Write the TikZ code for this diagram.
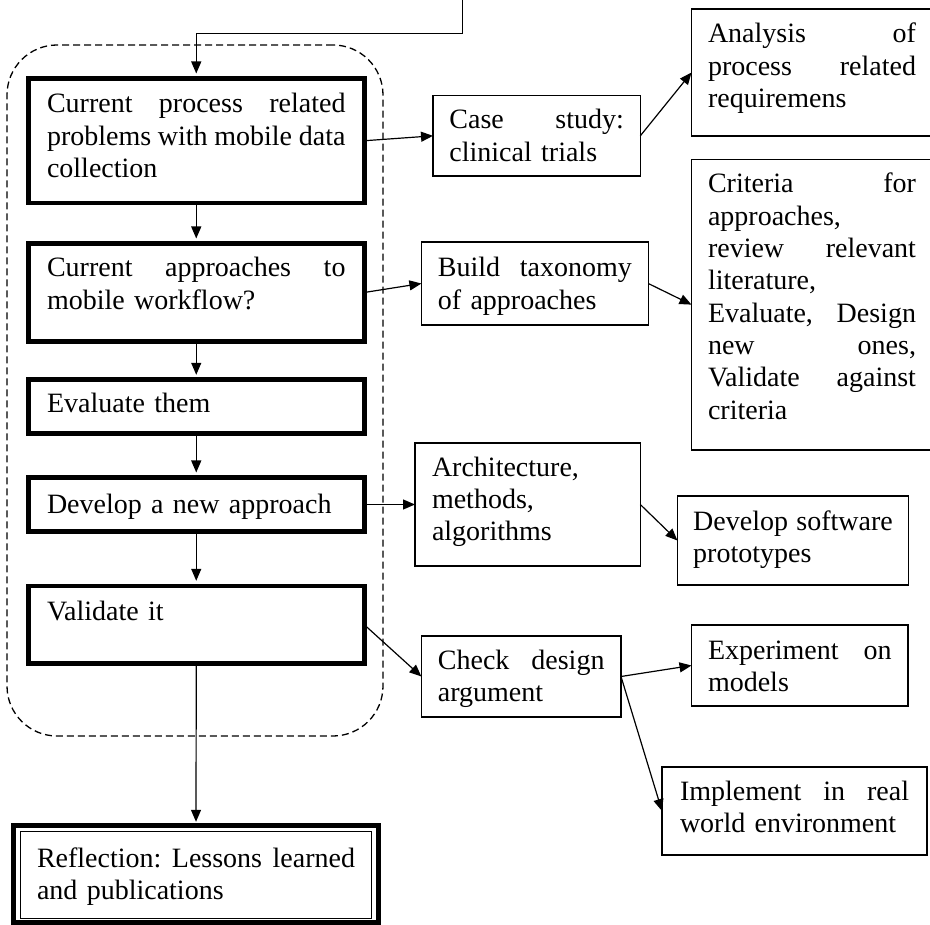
\documentclass[tikz,border=0pt]{standalone}
\usepackage{fontspec}
\setmainfont{Liberation Serif}
\usetikzlibrary{arrows.meta}
% a line stretched to the full text width (justified line)
\newcommand{\justline}[1]{\leavevmode\hbox to \hsize{\spaceskip=0.25em plus 1fil minus 0.08em\relax
  \xspaceskip=\spaceskip #1}}

\tikzset{
  every node/.style={font=\fontsize{28}{32.3}\selectfont},
  stage/.style={draw, line width=4.6pt, anchor=north west, outer sep=0pt,
    inner ysep=0pt, inner xsep=18.7pt, text width=298.5pt, align=left},
  note/.style={draw, line width=1.3pt, anchor=north west, outer sep=0pt,
    inner ysep=0pt, align=left},
  group/.style={draw, line width=1.3pt, dash pattern=on 7pt off 4pt,
    rounded corners=50pt, anchor=north west, outer sep=0pt, inner sep=0pt},
  flow/.style={line width=1.2pt, -{Triangle[length=12pt,width=10pt]}},
  intostage/.style={flow, shorten >=5pt},
}

\begin{document}
\begin{tikzpicture}[x=1pt,y=-1pt]
\useasboundingbox (0,0) rectangle (930,925);
\clip (0,0) rectangle (930,925);

% dashed frame around the research cycle
\node[group, minimum width=376pt, minimum height=691pt] (grp) at (7,45) {};

% main stages
\node[stage, text height=34.5pt, text depth=90pt] (cur) at (28.3,78.5)
  {\justline{Current process related}\\\justline{problems with mobile data}\\collection};
\node[stage, text height=33.5pt, text depth=64.5pt] (appr) at (28.3,243.5)
  {\justline{Current approaches to}\\mobile workflow?};
\node[stage, text height=33.2pt, text depth=20.5pt] (eval) at (28.3,379.8)
  {Evaluate them};
\node[stage, text height=35.5pt, text depth=18.5pt] (dev) at (28.3,477.5)
  {Develop a new approach};
\node[stage, text height=34.2pt, text depth=43.5pt] (val) at (28.3,585.8)
  {Validate it};

% final stage with thick-thin border
\node[stage, line width=5pt, inner xsep=23.5pt, text width=318pt,
      text height=41.2pt, text depth=55.5pt] (refl) at (13.5,825.8)
  {\justline{Reflection: Lessons learned}\\and publications};
\draw[line width=1.3pt] ([xshift=7.2pt,yshift=-5.9pt]refl.north west)
  rectangle ([xshift=-6.8pt,yshift=4.2pt]refl.south east);

% activities
\node[note, inner xsep=16.4pt, text width=174.5pt, text height=33.3pt, text depth=47pt]
  (case) at (433,95.7) {\justline{Case study:}\\clinical trials};
\node[note, inner xsep=16.5pt, text width=208pt, text height=34pt, text depth=93pt]
  (anal) at (691.5,9) {\justline{Analysis of}\\\justline{process related}\\requiremens};
\node[note, inner xsep=16.5pt, text width=193.9pt, text height=35pt, text depth=48pt]
  (build) at (421.4,242) {\justline{Build taxonomy}\\of approaches};
\node[note, inner xsep=16.5pt, text width=208pt, text height=33.7pt, text depth=257pt]
  (crit) at (691.5,159.3)
  {\justline{Criteria for}\\approaches,\\\justline{review relevant}\\literature,\\
   \justline{Evaluate, Design}\\\justline{new ones,}\\\justline{Validate against}\\criteria};
\node[note, inner xsep=17pt, text width=191.3pt, text height=33pt, text depth=90pt]
  (arch) at (415,443) {Architecture,\\methods,\\algorithms};
\node[note, inner xsep=15.8pt, text width=199.6pt, text height=34pt, text depth=55pt]
  (devsw) at (677.4,496) {\justline{Develop software}\\prototypes};
\node[note, inner xsep=16.5pt, text width=166.6pt, text height=33pt, text depth=48pt]
  (check) at (421.4,636) {\justline{Check design}\\argument};
\node[note, inner xsep=16.5pt, text width=183.5pt, text height=34pt, text depth=47pt]
  (exp) at (691.5,625) {\justline{Experiment on}\\models};
\node[note, inner xsep=18pt, text width=229pt, text height=33pt, text depth=55pt]
  (impl) at (662,767) {\justline{Implement in real}\\world environment};

% connectors
\coordinate (src) at (462.7,-1);
\draw[intostage] (src) -- ++(0,34.3) -| (cur.north);
\draw[intostage] (cur.south) -- (appr.north);
\draw[intostage] (appr.south) -- (eval.north);
\draw[intostage] (eval.south) -- (dev.north);
\draw[intostage] (dev.south) -- (val.north);
\draw[flow, shorten >=4pt] (val.south) -- (refl.north);

\draw[flow] (cur.east) -- (case.west);
\draw[flow] (case.east) -- (anal.west);
\draw[flow] (appr.east) -- (build.west);
\draw[flow] (build.east) -- (crit.west);
\draw[flow] (dev.east) -- (arch.west);
\draw[flow] (arch.east) -- (devsw.west);
\draw[flow] (val.east) -- (check.west);
\draw[flow] (check.east) -- (exp.west);
\draw[flow] (check.east) -- (impl.west);
\end{tikzpicture}
\end{document}
